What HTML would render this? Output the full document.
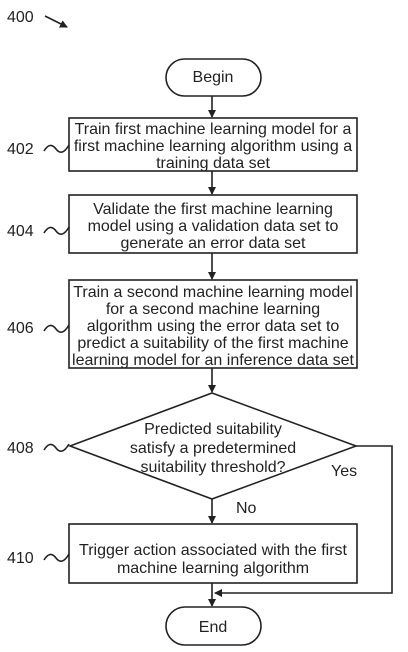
<!DOCTYPE html>
<html><head><style>body{margin:0;background:#fff}</style></head><body>
<svg width="408" height="647" xmlns="http://www.w3.org/2000/svg" font-family="Liberation Sans, sans-serif" font-size="16" fill="#222">
<defs><marker id="a" markerWidth="8" markerHeight="8" refX="7" refY="4" orient="auto" markerUnits="userSpaceOnUse"><path d="M0,0L8,4L0,8z" fill="#222"/></marker></defs>
<g stroke="#222" stroke-width="1.6" fill="none">
<rect x="166" y="59" width="95" height="37" rx="18.5"/>
<rect x="69" y="118" width="288" height="53"/>
<rect x="69" y="195" width="288" height="58"/>
<rect x="69" y="280" width="288" height="88"/>
<path d="M212,393L356,446L212,499L70,446Z"/>
<rect x="69" y="524" width="288" height="59"/>
<rect x="166" y="607" width="95" height="38" rx="19"/>
<path d="M212,96V117" marker-end="url(#a)"/>
<path d="M212,171V194" marker-end="url(#a)"/>
<path d="M212,253V279" marker-end="url(#a)"/>
<path d="M212,368V392" marker-end="url(#a)"/>
<path d="M212,499V523" marker-end="url(#a)"/>
<path d="M212,583V606" marker-end="url(#a)"/>
<path d="M356,446H392V593H215" marker-end="url(#a)"/>
<path d="M45,16L67,27" marker-end="url(#a)"/>
<path d="M44,151q6,-10 12,-2t13,-4"/>
<path d="M44,233q6,-10 12,-2t13,-4"/>
<path d="M44,331q6,-10 12,-2t13,-4"/>
<path d="M44,450q6,-10 12,-2t13,-4"/>
<path d="M44,560q6,-10 12,-2t13,-4"/>
</g>
<text x="7" y="22">400</text>
<text x="7" y="154">402</text>
<text x="7" y="236">404</text>
<text x="7" y="333">406</text>
<text x="7" y="453">408</text>
<text x="7" y="563">410</text>
<g text-anchor="middle">
<text x="213" y="82">Begin</text>
<text x="213" y="134">Train first machine learning model for a</text>
<text x="213" y="151">first machine learning algorithm using a</text>
<text x="213" y="168">training data set</text>
<text x="213" y="214">Validate the first machine learning</text>
<text x="213" y="231">model using a validation data set to</text>
<text x="213" y="248">generate an error data set</text>
<text x="213" y="297">Train a second machine learning model</text>
<text x="213" y="314">for a second machine learning</text>
<text x="213" y="331">algorithm using the error data set to</text>
<text x="213" y="348">predict a suitability of the first machine</text>
<text x="213" y="365">learning model for an inference data set</text>
<text x="213" y="434">Predicted suitability</text>
<text x="213" y="453">satisfy a predetermined</text>
<text x="213" y="472">suitability threshold?</text>
<text x="213" y="555">Trigger action associated with the first</text>
<text x="213" y="573">machine learning algorithm</text>
<text x="213" y="632">End</text>
</g>
<text x="331" y="476">Yes</text>
<text x="236" y="513">No</text>
</svg>
</body></html>
